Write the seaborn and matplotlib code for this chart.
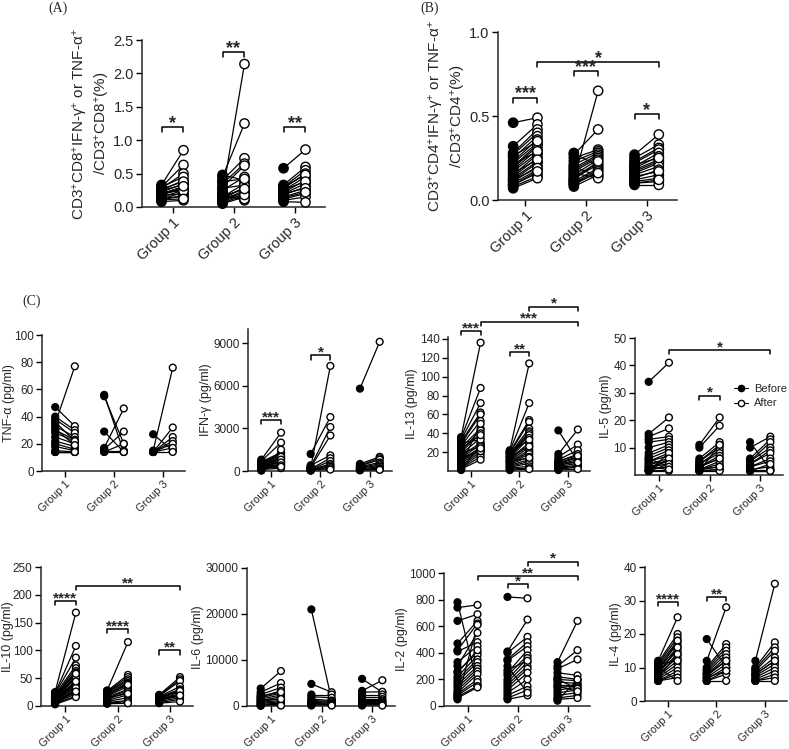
import matplotlib
matplotlib.use('Agg')

import numpy as np
import pandas as pd
import seaborn as sns
import matplotlib.pyplot as plt
from matplotlib.lines import Line2D

GROUPS = ['Group 1', 'Group 2', 'Group 3']

# ---- panel A: CD8 (%) ----
CD8_BEFORE = [[0.33, 0.30, 0.28, 0.25, 0.22, 0.20, 0.18, 0.15, 0.12, 0.10, 0.08, 0.30, 0.25, 0.20, 0.17, 0.14, 0.27, 0.22, 0.19, 0.11],
              [0.20, 0.45, 0.40, 0.35, 0.30, 0.25, 0.48, 0.15, 0.12, 0.10, 0.08, 0.05, 0.18, 0.22, 0.14, 0.10, 0.06, 0.28, 0.38, 0.16],
              [0.58, 0.33, 0.30, 0.28, 0.25, 0.22, 0.20, 0.18, 0.15, 0.12, 0.10, 0.08, 0.30, 0.26, 0.20, 0.14]]
CD8_AFTER = [[0.85, 0.63, 0.50, 0.40, 0.35, 0.30, 0.28, 0.25, 0.22, 0.18, 0.10, 0.45, 0.33, 0.27, 0.20, 0.15, 0.38, 0.24, 0.31, 0.12],
             [2.14, 1.25, 0.73, 0.65, 0.62, 0.45, 0.40, 0.35, 0.30, 0.25, 0.20, 0.15, 0.10, 0.12, 0.28, 0.22, 0.18, 0.33, 0.42, 0.27],
             [0.86, 0.60, 0.55, 0.50, 0.45, 0.40, 0.35, 0.30, 0.25, 0.20, 0.15, 0.07, 0.48, 0.38, 0.28, 0.22]]

# ---- panel B: CD4 (%) ----
CD4_BEFORE = [[0.46, 0.32, 0.28, 0.27, 0.25, 0.23, 0.22, 0.20, 0.19, 0.18, 0.17, 0.15, 0.14, 0.13, 0.12, 0.11, 0.10, 0.09, 0.08, 0.07, 0.26, 0.21, 0.16, 0.12, 0.09],
              [0.12, 0.27, 0.25, 0.23, 0.21, 0.19, 0.18, 0.17, 0.15, 0.14, 0.13, 0.28, 0.11, 0.10, 0.09, 0.08, 0.20, 0.16, 0.12, 0.10],
              [0.27, 0.25, 0.23, 0.22, 0.20, 0.19, 0.18, 0.17, 0.16, 0.15, 0.13, 0.12, 0.11, 0.10, 0.09, 0.21, 0.14, 0.10]]
CD4_AFTER = [[0.49, 0.45, 0.42, 0.40, 0.38, 0.36, 0.34, 0.33, 0.32, 0.30, 0.28, 0.27, 0.25, 0.23, 0.22, 0.20, 0.18, 0.16, 0.14, 0.13, 0.35, 0.29, 0.24, 0.19, 0.17],
             [0.65, 0.42, 0.30, 0.29, 0.28, 0.27, 0.26, 0.25, 0.24, 0.22, 0.21, 0.20, 0.19, 0.18, 0.17, 0.15, 0.14, 0.13, 0.23, 0.16],
             [0.39, 0.33, 0.31, 0.30, 0.28, 0.26, 0.24, 0.23, 0.22, 0.20, 0.18, 0.15, 0.13, 0.11, 0.09, 0.25, 0.17, 0.12]]

# ---- panel C: cytokines (pg/ml) ----
TNF_BEFORE = [[35, 47, 40, 38, 33, 30, 28, 25, 22, 20, 18, 15, 14, 14, 14, 36, 31],
              [56, 55, 29, 17, 16, 15, 14, 14],
              [27, 15, 14, 14, 14, 14, 14, 14]]
TNF_AFTER = [[77, 33, 30, 28, 25, 23, 22, 20, 18, 16, 15, 14, 14, 14, 14, 22, 19],
             [14, 20, 14, 46, 29, 15, 14, 20],
             [15, 76, 32, 25, 22, 20, 17, 14]]

IFN_BEFORE = [[800, 700, 650, 600, 550, 500, 450, 400, 350, 300, 250, 200, 150, 100, 50, 30, 600, 400, 300, 200],
              [200, 1200, 300, 250, 400, 150, 100, 80, 60, 50, 40, 30],
              [5800, 500, 400, 350, 300, 250, 200, 150, 100, 80, 60, 50]]
IFN_AFTER = [[2700, 2000, 1300, 1200, 1100, 1000, 900, 800, 700, 600, 500, 400, 300, 200, 1500, 1000, 800, 600, 400, 300],
             [7400, 3800, 3100, 2500, 1100, 900, 700, 500, 400, 300, 200, 100],
             [9100, 1000, 900, 800, 600, 500, 400, 300, 200, 150, 100, 80]]

IL13_BEFORE = [[36, 35, 33, 31, 29, 27, 25, 22, 20, 18, 16, 14, 12, 10, 8, 6, 4, 3, 2, 1, 30, 24, 19, 15, 11, 7],
               [22, 21, 20, 19, 18, 17, 16, 15, 14, 13, 12, 11, 10, 9, 8, 7, 6, 5, 4, 3, 2, 1, 20, 15, 10],
               [43, 18, 15, 12, 10, 9, 8, 7, 6, 5, 4, 3, 2, 1, 11, 8]]
IL13_AFTER = [[136, 88, 72, 62, 60, 53, 45, 43, 40, 35, 30, 28, 25, 23, 22, 20, 18, 15, 12, 28, 33, 38, 26, 21, 24, 50],
              [114, 72, 54, 52, 45, 42, 40, 38, 35, 30, 28, 25, 22, 20, 18, 15, 12, 10, 8, 5, 3, 2, 33, 26, 14],
              [10, 44, 28, 22, 18, 15, 14, 12, 10, 8, 6, 5, 4, 2, 16, 9]]

IL5_BEFORE = [[34, 15, 14, 13, 12, 10, 8, 7, 6, 5, 5, 4, 4, 3, 3, 2, 2, 1.5, 1.5, 1.5, 1.5, 6, 3],
              [11, 10, 6, 5, 5, 4, 4, 3, 3, 2, 2, 2, 1.5, 1.5, 1.5, 1.5, 3, 2],
              [12, 10, 6, 5, 5, 4, 4, 3, 3, 2, 2, 1.5, 1.5, 1.5]]
IL5_AFTER = [[41, 21, 17, 14, 13, 12, 11, 10, 9, 8, 7, 6, 5, 5, 4, 3, 2, 1.5, 8, 6, 4, 3, 2],
             [21, 18, 12, 11, 10, 9, 8, 7, 6, 5, 4, 3, 2, 2, 1.5, 11, 6, 3],
             [2, 14, 13, 12, 10, 9, 8, 6, 5, 3, 2, 1.5, 1.5, 4]]

IL10_BEFORE = [[25, 23, 22, 20, 18, 17, 16, 15, 14, 13, 12, 11, 10, 9, 8, 7, 6, 5, 4, 3, 20, 15, 10, 12, 18, 8],
               [28, 27, 26, 25, 24, 22, 20, 18, 16, 14, 12, 10, 8, 6, 5, 4, 20, 15],
               [20, 19, 18, 17, 16, 15, 14, 13, 12, 10, 8, 6, 5, 15, 11]]
IL10_AFTER = [[168, 108, 87, 73, 68, 63, 60, 55, 50, 45, 42, 40, 38, 35, 30, 28, 25, 22, 18, 16, 48, 52, 33, 44, 58, 26],
              [115, 56, 52, 48, 45, 42, 40, 35, 30, 28, 25, 20, 15, 10, 8, 5, 38, 22],
              [52, 48, 45, 35, 30, 28, 25, 22, 20, 18, 15, 12, 8, 27, 19]]

IL6_BEFORE = [[3800, 3000, 2500, 2000, 1800, 1500, 1200, 1000, 800, 600, 400, 200, 100, 50, 2200, 1300],
              [21000, 4800, 2500, 2000, 1500, 1200, 1000, 800, 600, 400, 200, 100],
              [5900, 3300, 3000, 2500, 2000, 1500, 1200, 1000, 800, 600, 400, 200, 100]]
IL6_AFTER = [[7600, 5000, 4000, 3300, 2800, 2400, 2000, 1600, 1200, 900, 600, 400, 200, 100, 3000, 1500],
             [1300, 3000, 2500, 1800, 1200, 1000, 800, 600, 400, 300, 200, 100],
             [3000, 5600, 3100, 2500, 2000, 1500, 1200, 1000, 700, 500, 300, 200, 100]]

IL2_BEFORE = [[780, 740, 640, 470, 420, 410, 330, 260, 220, 200, 180, 160, 140, 120, 100, 90, 80, 70, 60, 50, 300, 250],
              [820, 410, 400, 350, 340, 250, 230, 200, 180, 160, 140, 120, 100, 80, 60, 50, 300, 270],
              [330, 300, 280, 250, 220, 200, 180, 160, 140, 120, 100, 80, 60, 50, 40, 200, 150]]
IL2_AFTER = [[160, 760, 690, 640, 620, 480, 450, 400, 380, 350, 330, 300, 280, 260, 240, 200, 180, 150, 140, 610, 550, 420],
             [810, 650, 520, 480, 450, 420, 380, 360, 330, 300, 280, 250, 200, 150, 120, 80, 100, 340],
             [640, 420, 350, 230, 200, 190, 170, 160, 150, 140, 120, 100, 80, 60, 200, 130, 110]]

IL4_BEFORE = [[12, 11.5, 11, 10.5, 10, 9.5, 9, 8.5, 8, 7.5, 7, 6.5, 6, 6, 6, 10, 9, 8, 7, 11],
              [18.5, 12, 10, 9.5, 9, 8.5, 8, 7.5, 7, 6.5, 6, 6, 6, 8, 7],
              [12, 10, 9.5, 9, 8.5, 8, 7.5, 7, 6.5, 6, 6, 6, 8]]
IL4_AFTER = [[25, 20, 19, 18, 17, 16, 15, 14, 13, 12, 11, 10, 9, 8, 7, 6, 18, 16, 14, 12],
             [10, 28, 17, 16, 15, 14, 13, 12, 11, 10, 9, 8, 6, 12, 9],
             [35, 17.5, 16, 15, 13, 12, 11, 10, 9, 8, 7, 6, 12]]

# significance brackets: (group, side, group, side, y, label)
CD8_SIG = [(0, 'B', 0, 'A', 1.2, '*'), (1, 'B', 1, 'A', 2.32, '**'), (2, 'B', 2, 'A', 1.2, '**')]
CD4_SIG = [(0, 'B', 0, 'A', 0.61, '***'), (1, 'B', 1, 'A', 0.77, '***'), (2, 'B', 2, 'A', 0.51, '*'),
           (0, 'A', 2, 'A', 0.82, '*')]
TNF_SIG = []
IFN_SIG = [(0, 'B', 0, 'A', 3600, '***'), (1, 'B', 1, 'A', 8150, '*')]
IL13_SIG = [(0, 'B', 0, 'A', 148, '***'), (1, 'B', 1, 'A', 126, '**'), (0, 'A', 2, 'A', 158, '***'),
            (1, 'A', 2, 'A', 174, '*')]
IL5_SIG = [(0, 'A', 2, 'A', 45.6, '*'), (1, 'B', 1, 'A', 29, '*')]
IL10_SIG = [(0, 'B', 0, 'A', 189, '****'), (0, 'A', 2, 'A', 216, '**'), (1, 'B', 1, 'A', 138, '****'),
            (2, 'B', 2, 'A', 100, '**')]
IL6_SIG = []
IL2_SIG = [(1, 'B', 1, 'A', 917, '*'), (0, 'A', 2, 'A', 977, '**'), (1, 'A', 2, 'A', 1083, '*')]
IL4_SIG = [(0, 'B', 0, 'A', 29.5, '****'), (1, 'B', 1, 'A', 31, '**')]

W, H = 789, 749

sns.set_style('ticks')
plt.rcParams['font.family'] = ['Liberation Sans', 'DejaVu Sans']
plt.rcParams['mathtext.fontset'] = 'custom'
plt.rcParams['mathtext.rm'] = 'Liberation Sans'
plt.rcParams['mathtext.it'] = 'Liberation Sans:italic'
plt.rcParams['axes.linewidth'] = 1.1


def paired_frame(before, after, offset):
    rows = []
    for g, (b_vals, a_vals) in enumerate(zip(before, after)):
        for i, (b, a) in enumerate(zip(b_vals, a_vals)):
            rows.append({'pair': f'{g}-{i}', 'time': 'Before', 'value': b, 'x': g - offset})
            rows.append({'pair': f'{g}-{i}', 'time': 'After', 'value': a, 'x': g + offset})
    return pd.DataFrame(rows)


def make_axes(fig, x0, y0, x1, y1):
    # pixel box (left, top, right, bottom) -> figure fraction
    return fig.add_axes([x0 / W, 1 - y1 / H, (x1 - x0) / W, (y1 - y0) / H])


def paired_panel(ax, before, after, sig, ylim, yticks, ylabel, offset, msize, fs, xlim,
                 yfmt=None, xfs=None, labelpad=1):
    df = paired_frame(before, after, offset)
    sns.lineplot(data=df, x='x', y='value', units='pair', estimator=None, color='black',
                 lw=0.9, ax=ax, legend=False, zorder=2)
    sns.scatterplot(data=df, x='x', y='value', hue='time', palette={'Before': 'black', 'After': 'white'},
                    edgecolor='black', linewidth=1.0, s=msize, ax=ax, legend=False, zorder=3, clip_on=False)
    ax.set_xlim(*xlim)
    ax.set_ylim(*ylim)
    ax.set_yticks(yticks)
    if yfmt:
        ax.set_yticklabels([yfmt % t for t in yticks])
    ax.set_xticks(range(3))
    ax.set_xticklabels(GROUPS, rotation=45, ha='right', rotation_mode='anchor', fontsize=xfs or fs)
    ax.tick_params(axis='y', labelsize=fs)
    ax.tick_params(direction='out', length=4, width=1.0, color='black', pad=2)
    ax.set_xlabel('')
    ax.set_ylabel(ylabel, fontsize=fs + 0.5, labelpad=labelpad)
    for s in ['top', 'right']:
        ax.spines[s].set_visible(False)

    span = ylim[1] - ylim[0]
    leg = 0.03 * span
    for g1, s1, g2, s2, y, label in sig:
        xa = g1 + (-offset if s1 == 'B' else offset)
        xb = g2 + (-offset if s2 == 'B' else offset)
        ax.plot([xa, xa, xb, xb], [y - leg, y, y, y - leg], color='black', lw=1.1, clip_on=False)
        ax.text((xa + xb) / 2, y - 0.03 * span, label, ha='center', va='bottom',
                fontsize=fs + 2.5, fontweight='bold')


fig = plt.figure(figsize=(W / 100, H / 100), dpi=100)

# panel A
ax = make_axes(fig, 142, 40, 325, 207)
paired_panel(ax, CD8_BEFORE, CD8_AFTER, CD8_SIG, (0, 2.5), [0, 0.5, 1.0, 1.5, 2.0, 2.5],
             'CD3$^{+}$CD8$^{+}$IFN-γ$^{+}$ or TNF-α$^{+}$\n/CD3$^{+}$CD8$^{+}$(%)',
             0.18, 45, 10.5, (-0.5, 2.5), yfmt='%.1f')

# panel B
ax = make_axes(fig, 498, 32, 677, 200)
paired_panel(ax, CD4_BEFORE, CD4_AFTER, CD4_SIG, (0, 1.0), [0, 0.5, 1.0],
             'CD3$^{+}$CD4$^{+}$IFN-γ$^{+}$ or TNF-α$^{+}$\n/CD3$^{+}$CD4$^{+}$(%)',
             0.2, 45, 10.5, (-0.45, 2.5), yfmt='%.1f')

C_XLIM = (-0.47, 2.45)
c_panels = [
    ((42, 335, 185, 471), TNF_BEFORE, TNF_AFTER, TNF_SIG, (0, 100), range(0, 101, 20), 'TNF-α (pg/ml)'),
    ((248, 329, 392, 471), IFN_BEFORE, IFN_AFTER, IFN_SIG, (0, 10000), [0, 3000, 6000, 9000], 'IFN-γ (pg/ml)'),
    ((448, 337, 590, 471), IL13_BEFORE, IL13_AFTER, IL13_SIG, (0, 142), range(20, 141, 20), 'IL-13 (pg/ml)'),
    ((635, 338, 783, 475), IL5_BEFORE, IL5_AFTER, IL5_SIG, (0, 50), range(10, 51, 10), 'IL-5 (pg/ml)'),
    ((41, 567, 193, 706), IL10_BEFORE, IL10_AFTER, IL10_SIG, (0, 250), range(0, 251, 50), 'IL-10 (pg/ml)'),
    ((247, 568, 395, 706), IL6_BEFORE, IL6_AFTER, IL6_SIG, (0, 30000), [0, 10000, 20000, 30000], 'IL-6 (pg/ml)'),
    ((444, 573, 590, 706), IL2_BEFORE, IL2_AFTER, IL2_SIG, (0, 1000), range(0, 1001, 200), 'IL-2 (pg/ml)'),
    ((645, 567, 787, 701), IL4_BEFORE, IL4_AFTER, IL4_SIG, (0, 40), range(0, 41, 10), 'IL-4 (pg/ml)'),
]
for box, before, after, sig, ylim, yticks, ylabel in c_panels:
    ax = make_axes(fig, *box)
    pad = -1 if box[0] < 50 else 1
    paired_panel(ax, before, after, sig, ylim, list(yticks), ylabel, 0.2, 24, 8.5, C_XLIM,
                 xfs=7.8, labelpad=pad)
    if ylabel.startswith('IL-5'):
        handles = [Line2D([0], [0], color='black', lw=0.8, marker='o', markersize=4.5,
                          markerfacecolor='black', markeredgecolor='black'),
                   Line2D([0], [0], color='black', lw=0.8, marker='o', markersize=4.5,
                          markerfacecolor='white', markeredgecolor='black')]
        ax.legend(handles, ['Before', 'After'], loc='center left', bbox_to_anchor=(0.6, 0.575),
                  frameon=False, fontsize=8, handlelength=1.3, handletextpad=0.5, labelspacing=0.4)

fig.text(48 / W, 1 - 2 / H, '(A)', family='Liberation Serif', fontsize=10, va='top')
fig.text(420 / W, 1 - 2 / H, '(B)', family='Liberation Serif', fontsize=10, va='top')
fig.text(22 / W, 1 - 301 / H, '(C)', family='Liberation Serif', fontsize=10, va='center')

fig.savefig('out.png', dpi=100)
plt.close('all')
